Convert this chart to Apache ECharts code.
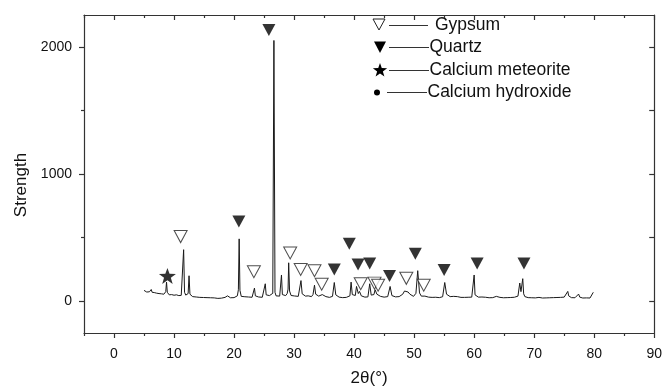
<!DOCTYPE html>
<html>
<head>
<meta charset="utf-8">
<script src="https://cdn.jsdelivr.net/npm/echarts@6/dist/echarts.min.js"></script>
<style>html,body{margin:0;padding:0;background:#fff;}#c{width:665px;height:392px;}</style>
</head>
<body>
<div id="c"></div>
<script>
// XRD pattern (2θ in degrees, strength)
const twoTheta = [5.0,5.15,5.3,5.45,5.6,5.75,5.9,6.05,6.2,6.35,6.5,6.7,6.9,7.1,7.3,7.5,7.7,7.9,8.1,8.3,8.5,8.62,8.75,8.88,9.0,9.2,9.4,9.6,9.8,10.0,10.2,10.4,10.6,10.8,11.0,11.2,11.45,11.6,11.75,11.95,12.15,12.35,12.5,12.65,12.85,13.1,13.4,13.7,14.0,14.3,14.6,14.9,15.2,15.5,15.8,16.1,16.4,16.7,17.0,17.3,17.6,17.9,18.2,18.5,18.75,18.9,19.1,19.4,19.7,20.0,20.3,20.55,20.72,20.85,20.98,21.2,21.5,21.8,22.1,22.4,22.7,23.0,23.25,23.4,23.55,23.8,24.1,24.4,24.7,24.95,25.2,25.35,25.6,25.9,26.2,26.45,26.64,26.82,27.0,27.3,27.6,27.75,27.9,28.05,28.3,28.6,28.85,29.0,29.1,29.25,29.5,29.8,30.1,30.4,30.7,30.95,31.15,31.35,31.6,31.9,32.15,32.35,32.6,32.9,33.15,33.4,33.6,33.85,34.1,34.35,34.7,35.0,35.3,35.6,35.9,36.2,36.4,36.55,36.7,36.95,37.2,37.5,37.8,38.1,38.4,38.7,39.0,39.3,39.5,39.7,39.95,40.2,40.4,40.7,40.9,41.2,41.5,41.8,42.1,42.3,42.45,42.6,42.85,43.1,43.3,43.5,43.8,44.1,44.4,44.7,45.0,45.3,45.6,45.8,46.0,46.3,46.6,46.9,47.2,47.5,47.8,48.1,48.4,48.7,49.0,49.3,49.6,49.9,50.05,50.15,50.3,50.6,50.9,51.2,51.5,51.8,52.1,52.4,52.7,53.0,53.3,53.6,53.9,54.2,54.5,54.75,54.9,55.1,55.4,55.7,56.0,56.3,56.6,56.9,57.2,57.5,57.8,58.1,58.4,58.7,59.0,59.3,59.6,59.85,60.0,60.15,60.4,60.7,61.0,61.3,61.6,61.9,62.2,62.5,62.8,63.1,63.4,63.7,64.0,64.3,64.6,64.9,65.2,65.5,65.8,66.1,66.4,66.7,67.0,67.3,67.6,67.8,67.95,68.1,68.25,68.45,68.7,69.0,69.3,69.6,69.9,70.2,70.5,70.8,71.1,71.4,71.7,72.0,72.3,72.6,72.9,73.2,73.5,73.8,74.1,74.4,74.7,75.0,75.3,75.6,75.75,75.95,76.2,76.5,76.8,77.1,77.4,77.6,77.8,78.1,78.4,78.7,79.0,79.3,79.6,79.85,80.0];
const strength = [85,78,88,72,80,70,74,66,92,70,64,68,60,63,57,60,54,58,52,55,58,75,150,70,55,50,48,52,45,47,42,50,40,44,41,46,52,405,70,48,45,60,200,55,40,36,30,33,27,30,26,29,24,28,25,27,23,26,25,22,26,24,28,30,36,42,30,27,31,28,32,42,90,490,85,38,32,35,29,33,28,31,45,103,42,30,33,28,31,35,137,50,38,44,48,62,2050,70,42,36,40,55,206,52,40,44,60,95,302,80,45,38,41,35,38,52,162,58,44,40,48,42,38,36,52,126,55,44,40,38,52,45,36,32,30,34,38,48,147,50,36,32,30,28,33,30,36,42,150,52,42,45,116,60,77,42,36,32,38,34,42,137,48,44,52,90,55,44,38,34,32,30,36,40,116,44,38,34,32,36,40,55,80,95,72,55,42,38,36,42,62,240,65,40,44,40,36,32,34,30,28,31,30,28,32,35,40,147,55,40,36,32,38,48,36,32,30,33,30,28,31,29,32,38,206,50,36,32,30,33,28,31,29,27,30,28,33,38,34,30,29,27,30,28,26,29,27,31,36,40,143,75,60,177,58,36,31,28,30,27,29,26,28,30,27,25,28,26,29,27,25,28,26,29,27,30,28,32,40,77,42,30,28,31,27,36,56,32,27,25,28,26,29,25,35,70];

// Phase annotation marks [2θ, strength]
const gypsumMarks = [[11.1,508],[23.3,232],[29.35,379],[31.1,250],[33.4,240],[34.6,134],[41.1,137],[43.4,142],[44.0,126],[48.7,180],[51.6,126]];
const quartzMarks = [[20.8,626],[25.8,2132],[36.7,250],[39.2,451],[40.66,289],[42.6,296],[45.9,199],[50.2,374],[55.0,245],[60.5,296],[68.3,296]];
const meteoriteMarks = [[8.9,199]];

const legendNames = ['Gypsum','Quartz','Calcium meteorite','Calcium hydroxide'];
const xMajorTicks = [0,10,20,30,40,50,60,70,80,90];
const xMinorTicks = [-5,5,15,25,35,45,55,65,75,85];
const yMajorTicks = [0,1000,2000];
const yMinorTicks = [500,1500];
const yRightTicks = [0,500,1000,1500,2000];

const FONT = '"Liberation Sans", Arial, sans-serif';
const AX = '#333';

const starPath = (function(){
  let pts = [];
  for (let i = 0; i < 10; i++) {
    const r = i % 2 === 0 ? 10 : 4;
    const a = -Math.PI/2 + i*Math.PI/5;
    pts.push((10 + r*Math.cos(a)).toFixed(3) + ',' + (10 + r*Math.sin(a)).toFixed(3));
  }
  return 'path://M' + pts.join(' L') + ' Z';
})();
function starPoints(cx, cy, R){
  let pts = [];
  for (let i = 0; i < 10; i++) {
    const r = i % 2 === 0 ? R : R*0.4;
    const a = -Math.PI/2 + i*Math.PI/5;
    pts.push([cx + r*Math.cos(a), cy + r*Math.sin(a)]);
  }
  return pts;
}
const downTri = 'path://M0,0 L12,0 L6,11 Z';

const chart = echarts.init(document.getElementById('c'), null, {renderer:'canvas'});
const baseX = {type:'value', min:-5, max:90, gridIndex:0, splitLine:{show:false}};
const baseY = {type:'value', min:-250, max:2250, gridIndex:0, splitLine:{show:false}};

const option = {
  animation:false,
  backgroundColor:'#fff',
  grid:{left:84, right:7, top:15, bottom:54, containLabel:false},
  xAxis:[
    Object.assign({}, baseX, {position:'bottom',
      axisLine:{show:true, onZero:false, lineStyle:{color:AX, width:1.2}},
      axisTick:{show:true, inside:false, length:5, customValues:xMajorTicks, lineStyle:{color:AX, width:1.2}},
      axisLabel:{show:true, customValues:xMajorTicks, margin:14, color:'#111', fontSize:14, fontFamily:FONT, formatter:v=>String(v)},
      name:'2θ(°)', nameLocation:'middle', nameGap:37,
      nameTextStyle:{color:'#111', fontSize:17, fontFamily:FONT}}),
    Object.assign({}, baseX, {position:'bottom',
      axisLine:{show:false, onZero:false},
      axisTick:{show:true, inside:false, length:3, customValues:xMinorTicks, lineStyle:{color:AX, width:1.2}},
      axisLabel:{show:false}}),
    Object.assign({}, baseX, {position:'top',
      axisLine:{show:true, onZero:false, lineStyle:{color:AX, width:1.2}},
      axisTick:{show:true, inside:true, length:5, customValues:xMajorTicks, lineStyle:{color:AX, width:1.2}},
      axisLabel:{show:false}}),
    Object.assign({}, baseX, {position:'top',
      axisLine:{show:false, onZero:false},
      axisTick:{show:true, inside:true, length:3, customValues:xMinorTicks, lineStyle:{color:AX, width:1.2}},
      axisLabel:{show:false}})
  ],
  yAxis:[
    Object.assign({}, baseY, {position:'left',
      axisLine:{show:true, onZero:false, lineStyle:{color:AX, width:1.2}},
      axisTick:{show:true, inside:false, length:5, customValues:yMajorTicks, lineStyle:{color:AX, width:1.2}},
      axisLabel:{show:true, customValues:yMajorTicks, margin:12, color:'#111', fontSize:14, fontFamily:FONT, formatter:v=>String(v)},
      name:'Strength', nameLocation:'middle', nameGap:52, nameRotate:90,
      nameTextStyle:{color:'#111', fontSize:17, fontFamily:FONT, padding:[0,0,0,-22]}}),
    Object.assign({}, baseY, {position:'left',
      axisLine:{show:false, onZero:false},
      axisTick:{show:true, inside:false, length:3, customValues:yMinorTicks, lineStyle:{color:AX, width:1.2}},
      axisLabel:{show:false}}),
    Object.assign({}, baseY, {position:'right',
      axisLine:{show:true, onZero:false, lineStyle:{color:AX, width:1.2}},
      axisTick:{show:true, inside:true, length:5, customValues:yRightTicks, lineStyle:{color:AX, width:1.2}},
      axisLabel:{show:false}})
  ],
  series:[
    {type:'line', xAxisIndex:0, yAxisIndex:0, showSymbol:false, symbol:'none',
     data: twoTheta.map((x,i)=>[x, strength[i]]),
     lineStyle:{color:'#1a1a1a', width:1}, z:2},
    {type:'scatter', name:legendNames[0], xAxisIndex:0, yAxisIndex:0, data:gypsumMarks,
     symbol:downTri, symbolSize:[13,12],
     itemStyle:{color:'#fff', borderColor:'#222', borderWidth:1}, z:4},
    {type:'scatter', name:legendNames[1], xAxisIndex:0, yAxisIndex:0, data:quartzMarks,
     symbol:downTri, symbolSize:[13,12],
     itemStyle:{color:'#000'}, z:5},
    {type:'scatter', name:legendNames[2], xAxisIndex:0, yAxisIndex:0, data:meteoriteMarks,
     symbol:starPath, symbolSize:[17,16],
     itemStyle:{color:'#000'}, z:5}
  ],
  graphic:[
    {type:'polygon', shape:{points:[[373,19],[385,19],[379,30]]}, style:{fill:'#fff', stroke:'#222', lineWidth:1}},
    {type:'line', shape:{x1:389, y1:25.5, x2:428, y2:25.5}, style:{stroke:'#333', lineWidth:1}},
    {type:'text', x:435, y:25, style:{text:legendNames[0], fill:'#111', font:'17.5px '+FONT, verticalAlign:'middle', align:'left'}},

    {type:'polygon', shape:{points:[[374,41.5],[386,41.5],[380,53]]}, style:{fill:'#000'}},
    {type:'line', shape:{x1:389, y1:47.5, x2:429, y2:47.5}, style:{stroke:'#333', lineWidth:1}},
    {type:'text', x:429.5, y:47.5, style:{text:legendNames[1], fill:'#111', font:'17.5px '+FONT, verticalAlign:'middle', align:'left'}},

    {type:'polygon', shape:{points:starPoints(380,70.5,7.5)}, style:{fill:'#000'}},
    {type:'line', shape:{x1:389, y1:70.5, x2:429, y2:70.5}, style:{stroke:'#333', lineWidth:1}},
    {type:'text', x:429.5, y:70.5, style:{text:legendNames[2], fill:'#111', font:'17.5px '+FONT, verticalAlign:'middle', align:'left'}},

    {type:'circle', shape:{cx:377, cy:92.5, r:3}, style:{fill:'#000'}},
    {type:'line', shape:{x1:387, y1:92.5, x2:427, y2:92.5}, style:{stroke:'#333', lineWidth:1}},
    {type:'text', x:427.5, y:92.5, style:{text:legendNames[3], fill:'#111', font:'17.5px '+FONT, verticalAlign:'middle', align:'left'}}
  ]
};
chart.setOption(option);
</script>
</body>
</html>
